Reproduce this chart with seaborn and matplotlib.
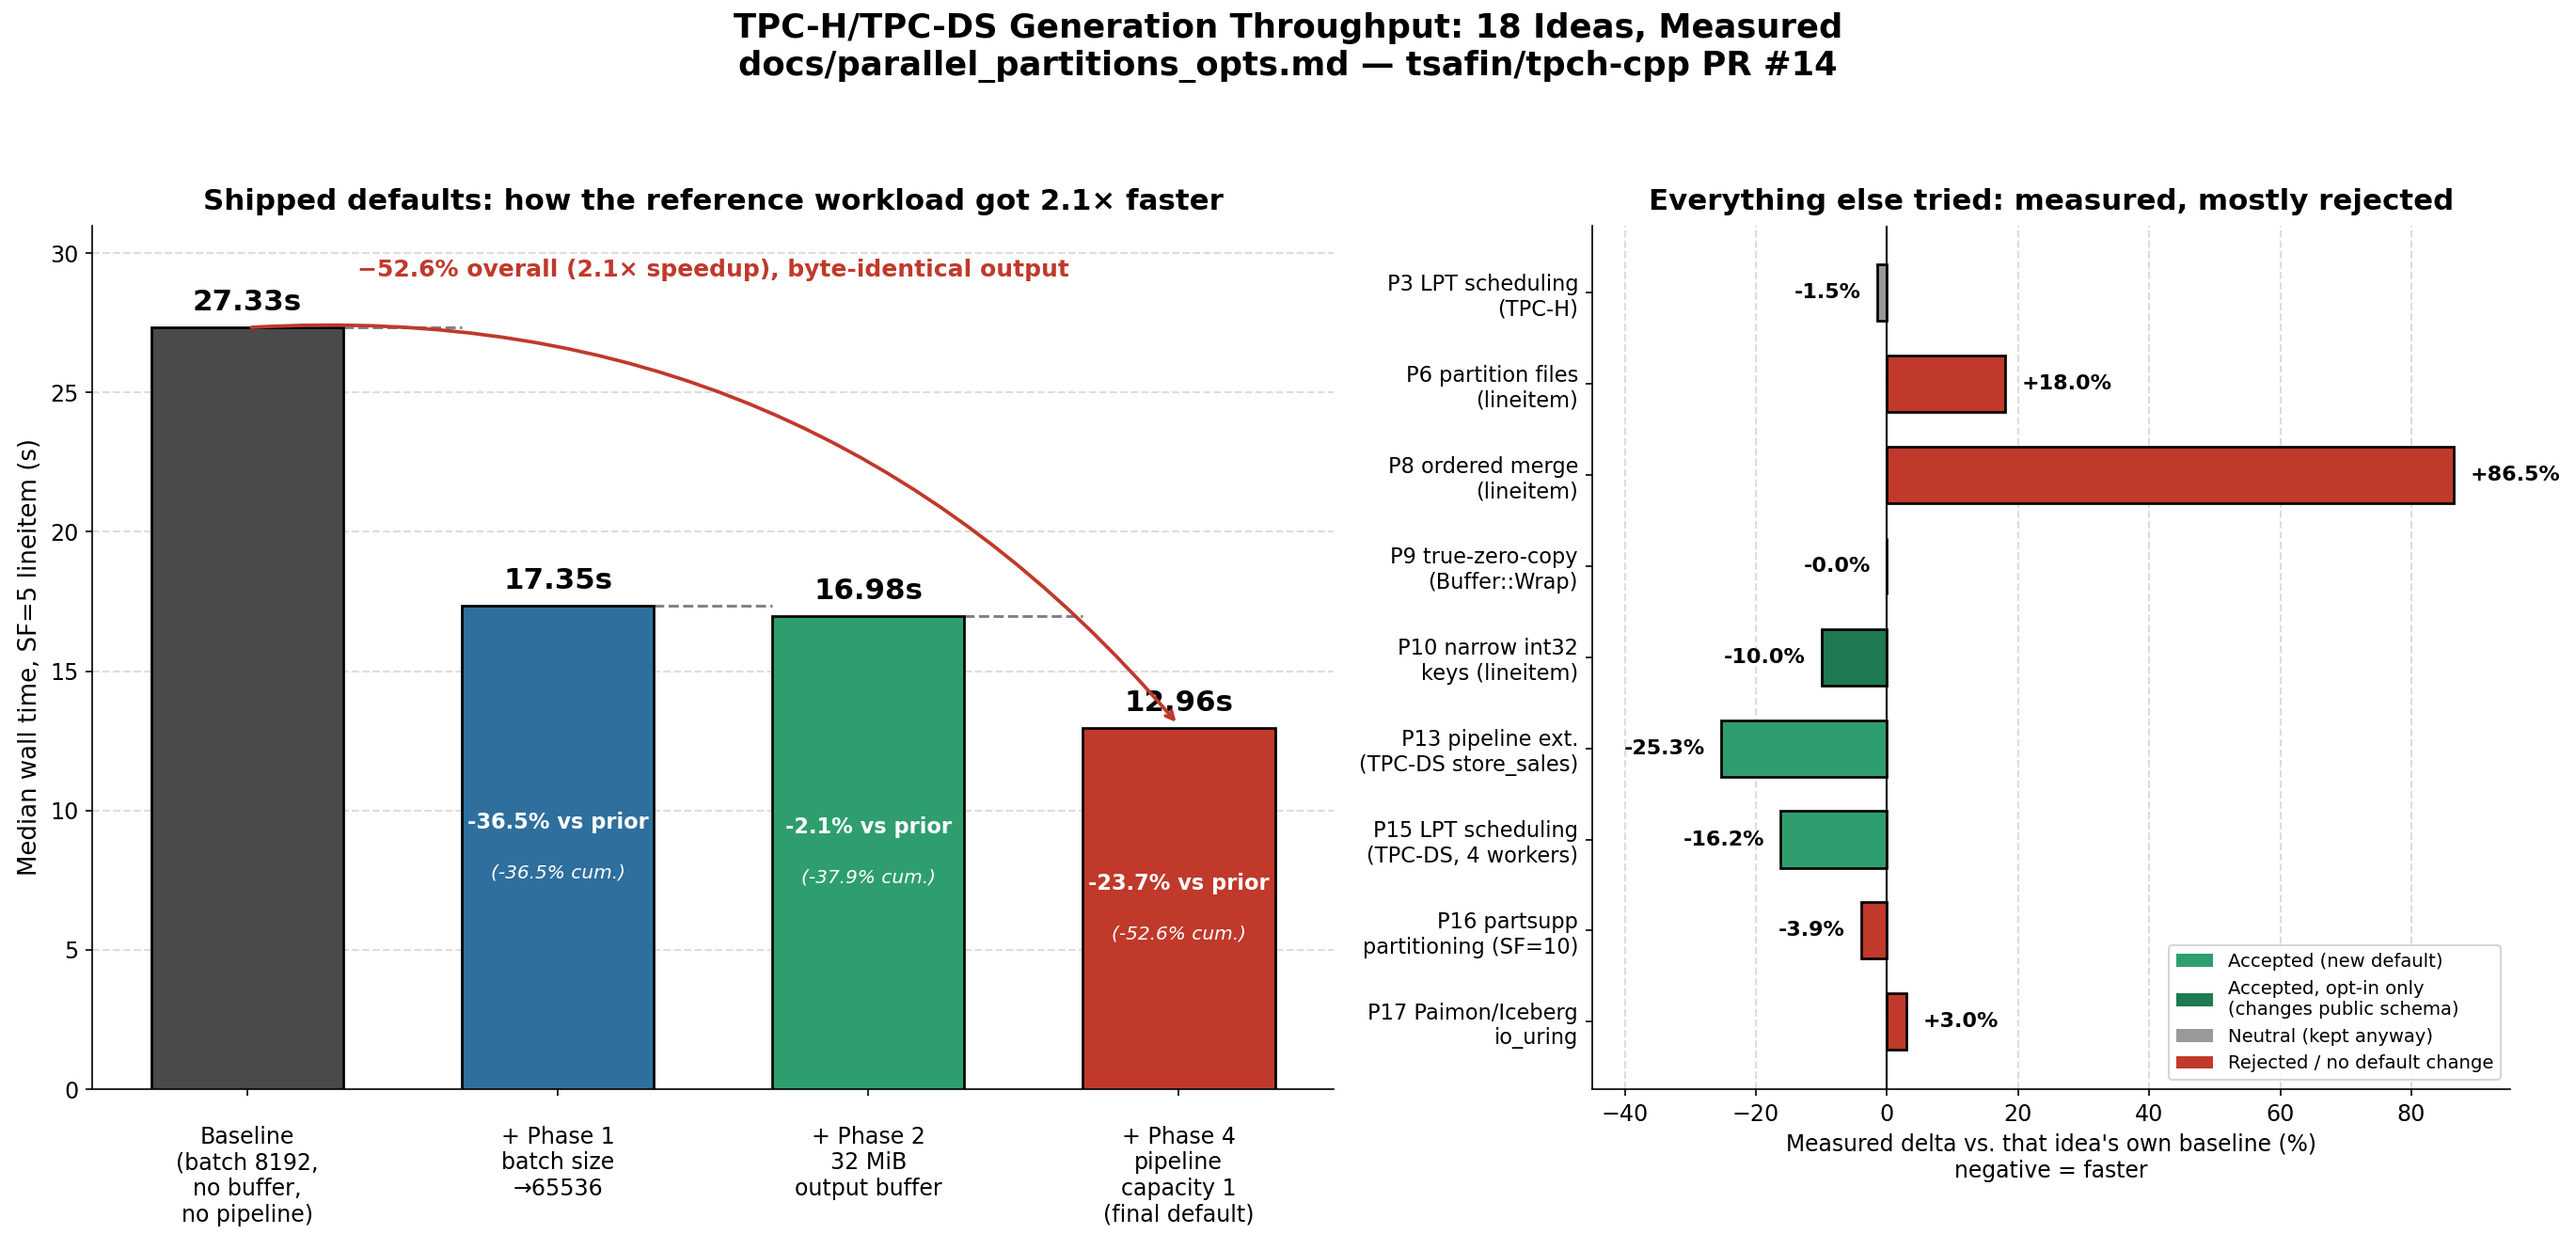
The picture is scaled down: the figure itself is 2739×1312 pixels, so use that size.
import matplotlib
matplotlib.use("Agg")
import matplotlib.pyplot as plt
from matplotlib.patches import Patch
import seaborn as sns

# Left panel: shipped defaults
phase_labels = [
    "Baseline\n(batch 8192,\nno buffer,\nno pipeline)",
    "+ Phase 1\nbatch size\n\u219265536",
    "+ Phase 2\n32 MiB\noutput buffer",
    "+ Phase 4\npipeline\ncapacity 1\n(final default)",
]
phase_times = [27.33, 17.35, 16.98, 12.96]
phase_vs_prior = [None, -36.5, -2.1, -23.7]
phase_cum = [None, -36.5, -37.9, -52.6]
phase_colors = ["#4a4a4a", "#2e6f9e", "#2e9e6f", "#c0392b"]

# Right panel: everything else tried
idea_labels = [
    "P3 LPT scheduling\n(TPC-H)",
    "P6 partition files\n(lineitem)",
    "P8 ordered merge\n(lineitem)",
    "P9 true-zero-copy\n(Buffer::Wrap)",
    "P10 narrow int32\nkeys (lineitem)",
    "P13 pipeline ext.\n(TPC-DS store_sales)",
    "P15 LPT scheduling\n(TPC-DS, 4 workers)",
    "P16 partsupp\npartitioning (SF=10)",
    "P17 Paimon/Iceberg\nio_uring",
]
idea_delta = [-1.5, 18.0, 86.5, -0.0, -10.0, -25.3, -16.2, -3.9, 3.0]
idea_status = ["neutral", "rejected", "rejected", "rejected", "optin",
               "accepted", "accepted", "rejected", "rejected"]

status_colors = {
    "accepted": "#2e9e6f",
    "optin": "#1e7a50",
    "neutral": "#999999",
    "rejected": "#c0392b",
}
status_names = {
    "accepted": "Accepted (new default)",
    "optin": "Accepted, opt-in only\n(changes public schema)",
    "neutral": "Neutral (kept anyway)",
    "rejected": "Rejected / no default change",
}

sns.set_style("ticks", {"text.color": "black", "axes.labelcolor": "black",
                        "xtick.color": "black", "ytick.color": "black",
                        "axes.edgecolor": "black"})
plt.rcParams["font.family"] = ["DejaVu Sans"]

fig = plt.figure(figsize=(18.26, 8.747), dpi=150)
ax1 = fig.add_axes([0.0358, 0.1174, 0.482, 0.700])
ax2 = fig.add_axes([0.618, 0.1174, 0.3563, 0.700])

# ---- left: shipped defaults
sns.barplot(x=phase_labels, y=phase_times, hue=phase_labels, palette=phase_colors,
            saturation=1, width=0.62, edgecolor="black", linewidth=1.3,
            legend=False, ax=ax1, zorder=3)
ax1.set_xlim(-0.5, 3.5)
ax1.set_ylim(0, 31)
ax1.yaxis.grid(True, linestyle="--", color="#dddddd", linewidth=1.0, zorder=0)
ax1.set_axisbelow(True)
ax1.set_ylabel("Median wall time, SF=5 lineitem (s)", fontsize=12.5)
ax1.set_title("Shipped defaults: how the reference workload got 2.1\u00d7 faster",
              fontsize=14.8, fontweight="bold", pad=8)
ax1.tick_params(axis="y", labelsize=11.4)
ax1.tick_params(axis="x", labelsize=11.4, pad=15)

for i, t in enumerate(phase_times):
    ax1.text(i, t + 0.4, f"{t:.2f}s", ha="center", va="bottom",
             fontsize=14.8, fontweight="bold")
    if i < len(phase_times) - 1:
        ax1.plot([i + 0.31, i + 0.69], [t, t], linestyle="--", color="gray",
                 linewidth=1.4, zorder=2)
    if phase_vs_prior[i] is not None:
        ax1.text(i, t / 2 + 0.9, f"{phase_vs_prior[i]:.1f}% vs prior", ha="center",
                 va="center", color="white", fontsize=10.8, fontweight="bold", zorder=4)
        ax1.text(i, t / 2 - 0.9, f"({phase_cum[i]:.1f}% cum.)", ha="center",
                 va="center", color="white", fontsize=9.7, style="italic", zorder=4)

ax1.annotate("", xy=(3, phase_times[3] + 0.1), xytext=(0, phase_times[0]),
             arrowprops=dict(arrowstyle="->", color="#c0392b", lw=1.8,
                             connectionstyle="arc3,rad=-0.25"), zorder=5)
ax1.text(1.5, 29.4, "\u221252.6% overall (2.1\u00d7 speedup), byte-identical output",
         ha="center", va="center", color="#c0392b", fontsize=12, fontweight="bold")

# ---- right: other ideas
colors = [status_colors[s] for s in idea_status]
sns.barplot(x=idea_delta, y=idea_labels, hue=idea_labels, palette=colors, orient="h",
            saturation=1, width=0.62, edgecolor="black", linewidth=1.3,
            legend=False, ax=ax2, zorder=3)
ax2.set_xlim(-45, 95)
ax2.set_ylim(8.74, -0.74)
ax2.axvline(0, color="black", linewidth=1.0, zorder=4)
ax2.xaxis.grid(True, linestyle="--", color="#dddddd", linewidth=1.0, zorder=0)
ax2.yaxis.grid(False)
ax2.set_axisbelow(True)
ax2.set_title("Everything else tried: measured, mostly rejected",
              fontsize=14.8, fontweight="bold", pad=8)
ax2.set_xlabel("Measured delta vs. that idea's own baseline (%)\nnegative = faster",
               fontsize=11.3)
ax2.set_ylabel("")
ax2.tick_params(axis="y", labelsize=10.8)
ax2.tick_params(axis="x", labelsize=11.4)

for j, d in enumerate(idea_delta):
    if d > 0:
        ax2.text(d + 2.5, j, f"+{d:.1f}%", ha="left", va="center",
                 fontsize=10.7, fontweight="bold")
    else:
        ax2.text(d - 2.5, j, f"-{abs(d):.1f}%", ha="right", va="center",
                 fontsize=10.7, fontweight="bold")

handles = [Patch(facecolor=status_colors[k], edgecolor="none", label=status_names[k])
           for k in ["accepted", "optin", "neutral", "rejected"]]
ax2.legend(handles=handles, loc="lower right", fontsize=9.4, frameon=True)

sns.despine(ax=ax1)
sns.despine(ax=ax2)

fig.suptitle("TPC-H/TPC-DS Generation Throughput: 18 Ideas, Measured\n"
             "docs/parallel_partitions_opts.md \u2014 tsafin/tpch-cpp PR #14",
             fontsize=17, fontweight="bold", y=0.99, va="top")

fig.savefig("out.png", dpi=150)
